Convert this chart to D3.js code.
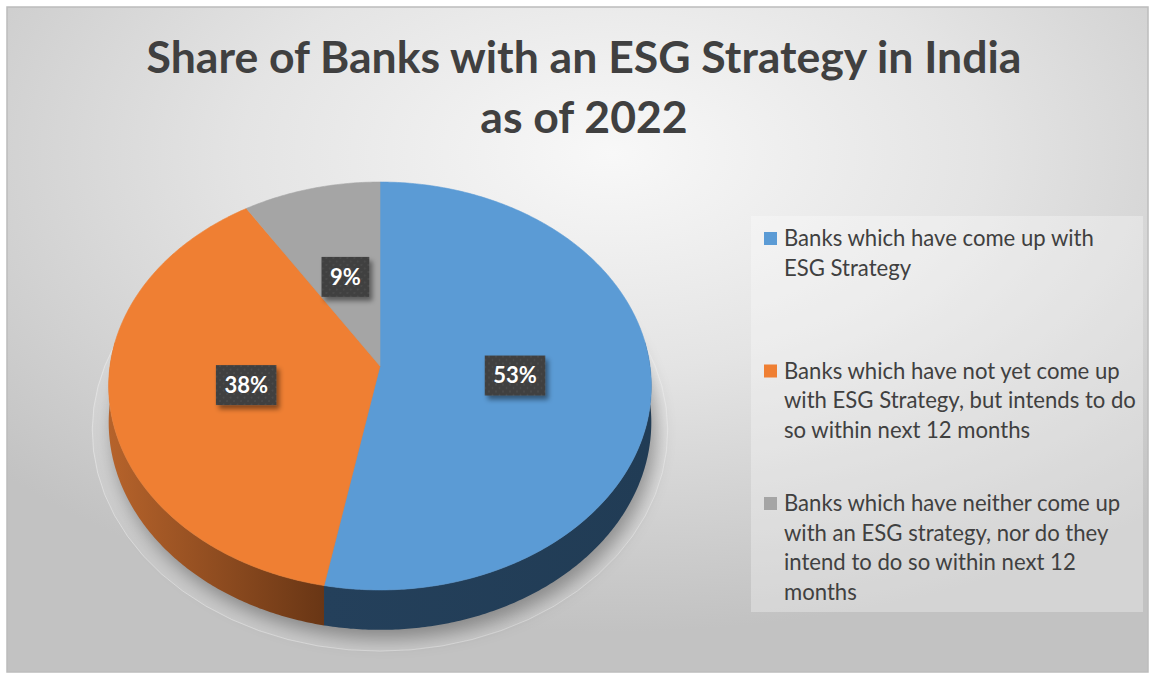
<!DOCTYPE html>
<html>
<head>
<meta charset="utf-8">
<script src="https://cdn.jsdelivr.net/npm/d3@7"></script>
<style>
  html, body { margin: 0; padding: 0; background: #ffffff; }
  svg { display: block; }
</style>
</head>
<body>
<svg id="chart" width="1152" height="675"></svg>
<script>
// ---- data ----
const titleLines = ["Share of Banks with an ESG Strategy in India", "as of 2022"];
const categories = [
  ["Banks which have come up with", "ESG Strategy"],
  ["Banks which have not yet come up", "with ESG Strategy, but intends to do", "so within next 12 months"],
  ["Banks which have neither come up", "with an ESG strategy, nor do they", "intend to do so within next 12", "months"]
];
const values = [53, 38, 9];
const valueLabels = ["53%", "38%", "9%"];

// ---- styles ----
const topColors = ["#5b9bd5", "#ef7f33", "#a5a5a5"];
const wallColors = [["#24405b", "#213c55"], ["#b6632b", "#693615"], ["#7c7c7c", "#5f5f5f"]];
const textColor = "#404040";
const FONT = "Lato, 'Open Sans', sans-serif";

const W = 1152, H = 675;
const svg = d3.select("#chart");
const defs = svg.append("defs");

// background gradient of the chart area
const bg = defs.append("radialGradient").attr("id", "bgGrad")
  .attr("cx", 0.53).attr("cy", 0.22).attr("r", 0.72);
bg.append("stop").attr("offset", 0).attr("stop-color", "#f8f8f8");
bg.append("stop").attr("offset", 0.45).attr("stop-color", "#e4e4e4");
bg.append("stop").attr("offset", 1).attr("stop-color", "#c2c2c2");

svg.append("rect").attr("x", 7).attr("y", 7).attr("width", 1141).attr("height", 665)
  .attr("fill", "url(#bgGrad)").attr("stroke", "#bcbcbc").attr("stroke-width", 1.5);

// ---- title ----
const title = svg.append("g").attr("fill", textColor).attr("font-family", FONT)
  .attr("font-weight", "bold").attr("text-anchor", "middle");
const t1 = title.append("text").attr("x", 584).attr("y", 73).attr("font-size", 40).text(titleLines[0]);
const titleSize = 40 * 875 / t1.node().getComputedTextLength();
t1.attr("font-size", titleSize);
title.append("text").attr("x", 584).attr("y", 133).attr("font-size", titleSize).text(titleLines[1]);

// ---- 3D pie projection ----
const cx = 380, cy = 366;         // projected centre of the top face
const A = 270, B = 202;           // horizontal / depth radii
const k = 0.098;                  // perspective factor
const D = 36;                     // thickness of the disc
function proj(theta, r, depth) {
  const X = r * Math.sin(theta), Y = r * Math.cos(theta);
  const s = 1 + k * Y;
  return [cx + A * X / s, cy - B * Y / s + depth * D / s];
}
function arcPoints(a0, a1, depth) {
  const n = Math.max(2, Math.ceil((a1 - a0) / 0.01));
  const pts = [];
  for (let i = 0; i <= n; i++) pts.push(proj(a0 + (a1 - a0) * i / n, 1, depth));
  return pts;
}
const line = d3.line();

const arcs = d3.pie().sort(null).value(d => d)(values);

// soft shadow under the disc
const shadowF = defs.append("filter").attr("id", "pieShadow")
  .attr("x", -0.2).attr("y", -0.2).attr("width", 1.4).attr("height", 1.5);
shadowF.append("feGaussianBlur").attr("stdDeviation", 9);

// faint floor plate behind the disc
const plate = [];
for (let i = 0; i <= 64; i++) plate.push(proj(i / 64 * 2 * Math.PI, 1.06, 1.15));
svg.append("path").attr("d", line(plate) + "Z")
  .attr("fill", "#ffffff").attr("fill-opacity", 0.12)
  .attr("stroke", "#ffffff").attr("stroke-opacity", 0.45).attr("stroke-width", 0.8);

const full = arcPoints(0, 2 * Math.PI, 1);
svg.append("path").attr("d", line(full) + "Z")
  .attr("transform", "translate(5,9)")
  .attr("fill", "#000").attr("fill-opacity", 0.33)
  .attr("filter", "url(#pieShadow)");

// side walls (front half only)
const lo = Math.PI / 2 - 0.12, hi = 3 * Math.PI / 2 + 0.12;
arcs.forEach((a, i) => {
  const a0 = Math.max(a.startAngle, lo), a1 = Math.min(a.endAngle, hi);
  if (a1 <= a0) return;
  const top = arcPoints(a0, a1, 0), bot = arcPoints(a0, a1, 1).reverse();
  const xs = top.map(p => p[0]);
  const gid = "wall" + i;
  const g = defs.append("linearGradient").attr("id", gid).attr("gradientUnits", "userSpaceOnUse")
    .attr("x1", i === 1 ? d3.min(xs) : d3.min(xs)).attr("x2", d3.max(xs)).attr("y1", 0).attr("y2", 0);
  g.append("stop").attr("offset", 0).attr("stop-color", wallColors[i][0]);
  g.append("stop").attr("offset", 1).attr("stop-color", wallColors[i][1]);
  svg.append("path").attr("d", line(top.concat(bot)) + "Z").attr("fill", `url(#${gid})`);
});

// top faces
arcs.forEach((a, i) => {
  const pts = [[cx, cy]].concat(arcPoints(a.startAngle, a.endAngle, 0));
  svg.append("path").attr("d", line(pts) + "Z").attr("fill", topColors[i])
    .attr("stroke", topColors[i]).attr("stroke-width", 0.6);
});

// ---- value labels ----
const lblShadow = defs.append("filter").attr("id", "lblShadow")
  .attr("x", -0.3).attr("y", -0.3).attr("width", 1.7).attr("height", 1.8);
lblShadow.append("feDropShadow").attr("dx", 3).attr("dy", 4).attr("stdDeviation", 2.5)
  .attr("flood-color", "#000").attr("flood-opacity", 0.45);
const pat = defs.append("pattern").attr("id", "dots").attr("patternUnits", "userSpaceOnUse")
  .attr("width", 7).attr("height", 7);
pat.append("rect").attr("width", 7).attr("height", 7).attr("fill", "#404040");
pat.append("circle").attr("cx", 2).attr("cy", 2).attr("r", 0.9).attr("fill", "#4d4d4d");
pat.append("circle").attr("cx", 5.5).attr("cy", 5.5).attr("r", 0.9).attr("fill", "#4d4d4d");

arcs.forEach((a, i) => {
  const mid = (a.startAngle + a.endAngle) / 2;
  const [lx, ly] = proj(mid, i === 2 ? 0.48 : 0.5, 0);
  const g = svg.append("g").attr("transform", `translate(${lx},${ly})`);
  const bx = g.append("rect").attr("fill", "url(#dots)").attr("filter", "url(#lblShadow)");
  const t = g.append("text").attr("text-anchor", "middle").attr("dy", "0.36em")
    .attr("fill", "#ffffff").attr("font-family", FONT).attr("font-weight", "bold")
    .attr("font-size", 22).text(valueLabels[i]);
  const w = t.node().getComputedTextLength() + 17;
  bx.attr("x", -w / 2).attr("y", -20).attr("width", w).attr("height", 40);
});

// ---- legend ----
const legend = svg.append("g");
legend.append("rect").attr("x", 751).attr("y", 216).attr("width", 392).attr("height", 396)
  .attr("fill", "#ffffff").attr("fill-opacity", 0.3);
const probe = legend.append("text").attr("font-family", FONT).attr("font-size", 20).text(categories[0][0]);
const legSize = 20 * 310 / probe.node().getComputedTextLength();
probe.remove();
categories.forEach((lines, i) => {
  const base = 246 + i * 132.5;
  legend.append("rect").attr("x", 764).attr("y", base - 14).attr("width", 13).attr("height", 13)
    .attr("fill", topColors[i]);
  const t = legend.append("text").attr("font-family", FONT).attr("font-size", legSize)
    .attr("fill", textColor);
  lines.forEach((l, j) => {
    t.append("tspan").attr("x", 784).attr("y", base + j * 29.5).text(l);
  });
});
</script>
</body>
</html>
